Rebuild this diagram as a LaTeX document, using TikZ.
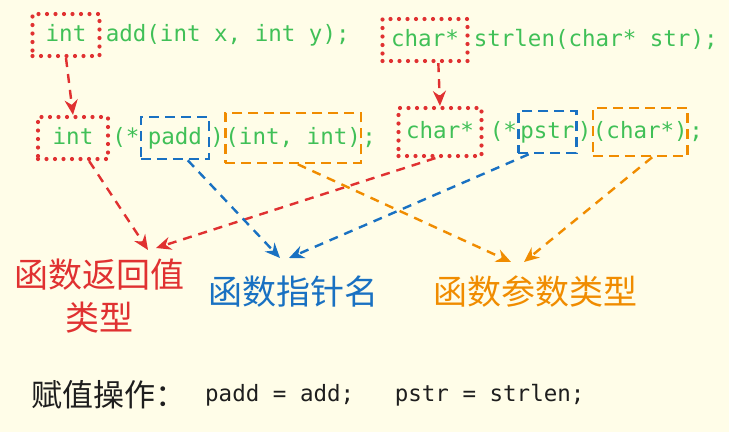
\documentclass[tikz,border=0pt]{standalone}
\usepackage{fontspec}
\setmonofont{DejaVu Sans Mono}
\newfontfamily\cjk{Noto Sans CJK SC}
\usetikzlibrary{positioning,arrows.meta}
\definecolor{bg}{HTML}{FFFDE8}
\definecolor{codegreen}{HTML}{40C057}
\definecolor{exred}{HTML}{E03131}
\definecolor{exblue}{HTML}{1971C2}
\definecolor{exorange}{HTML}{F08C00}
\definecolor{ink}{HTML}{1E1E1E}

\begin{document}
\begin{tikzpicture}[x=1pt,y=-1pt,
    codetext/.style={text=codegreen,font=\fontsize{22.5}{26}\ttfamily,
      inner sep=0pt,text height=17pt,text depth=5pt},
    dotbox/.style={draw=exred,line width=4.2pt,line cap=round,
      dash pattern=on 0pt off 8.5pt},
    dashbox/.style={line width=2.6pt,dash pattern=on 10pt off 6pt},
    link/.style={line width=2.4pt,dash pattern=on 9pt off 7pt,
      -{Stealth[length=15pt,width=13pt]}},
    kindlabel/.style={font=\fontsize{34}{43}\cjk,align=center}]
    \fill[bg] (0,0) rectangle (729,432);
    \useasboundingbox (0,0) rectangle (729,432);

    % prototypes
    \node[codetext,dotbox,minimum width=67pt,minimum height=42pt] (ret1) at (66,35) {int};
    \node[codetext,right=4pt of ret1] (sig1) {add(int x, int y);};
    \node[codetext,dotbox,minimum width=85pt,minimum height=42pt] (char1) at (425,40) {char*};
    \node[codetext,right=4pt of char1] (sig2) {strlen(char* str);};

    % pointer declarations
    \node[codetext,dotbox,minimum width=70pt,minimum height=42pt] (ret2) at (73,138) {int};
    \node[codetext,right=2pt of ret2] (lp1) {(*};
    \node[codetext,dashbox,draw=exblue,minimum width=68pt,minimum height=42pt,right=0pt of lp1] (name1) {padd};
    \node[codetext,right=0pt of name1] (rp1) {)};
    \node[codetext,dashbox,draw=exorange,minimum width=135pt,minimum height=50pt,right=0pt of rp1] (par1) {(int, int)};
    \node[codetext,right=0pt of par1] (sc1) {;};

    \node[codetext,dotbox,minimum width=83pt,minimum height=48pt] (char2) at (440,132) {char*};
    \node[codetext,right=6pt of char2] (lp2) {(*};
    \node[codetext,dashbox,draw=exblue,minimum width=58pt,minimum height=42pt,right=0pt of lp2] (name2) {pstr};
    \node[codetext,right=0pt of name2] (rp2) {)};
    \node[codetext,dashbox,draw=exorange,minimum width=91pt,minimum height=48pt,right=0pt of rp2] (par2) {(char*)};
    \node[codetext,right=0pt of par2] (sc2) {;};

    % kinds
    \node[kindlabel,text=exred] (retkind) at (100,296) {函数返回值\\类型};
    \node[kindlabel,text=exblue] (namekind) at (293,292) {函数指针名};
    \node[kindlabel,text=exorange] (parkind) at (535,292) {函数参数类型};

    \coordinate (rtipa) at (148,250);
    \coordinate (rtipb) at (156,248);
    \coordinate (btipa) at (280,258);
    \coordinate (btipb) at (289,258);
    \coordinate (otipa) at (511,262);
    \coordinate (otipb) at (524,262);

    \draw[link,exred] (ret1.south) -- (ret2.north);
    \draw[link,exred] (char1.-60) -- (char2.north);
    \draw[link,exred] (ret2.-55) -- (rtipa);
    \draw[link,exred] (char2.-100) -- (rtipb);
    \draw[link,exblue] (name1.-60) -- (btipa);
    \draw[link,exblue] (name2.-130) -- (btipb);
    \draw[link,exorange] (par1.-80) -- (otipa);
    \draw[link,exorange] (par2.-65) -- (otipb);

    % assignment
    \node[font=\fontsize{31}{36}\cjk,text=ink,anchor=west] (asgtitle) at (28,395) {赋值操作：};
    \node[codetext,text=ink,anchor=west] (asgcode) at (205,395) {padd = add;\ \ \ pstr = strlen;};
\end{tikzpicture}
\end{document}
